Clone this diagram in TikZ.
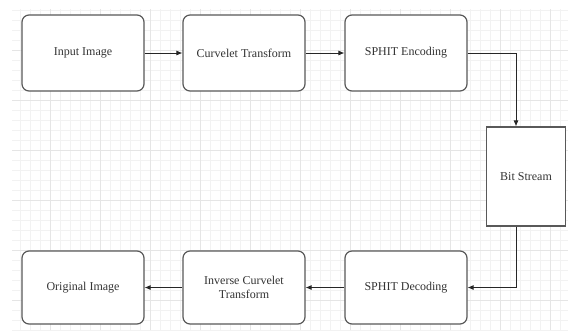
\documentclass[tikz,border=0pt]{standalone}
\usepackage{fontspec}
\setmainfont{Liberation Serif}
\usetikzlibrary{arrows.meta}

\tikzset{
    block/.style={draw=black!65, line width=1.2pt, rounded corners=7pt, fill=white,
        minimum width=122pt, minimum height=76pt, align=center, text=black!80,
        font=\fontsize{12}{13.5}\selectfont},
    flow/.style={-{Latex[length=6pt,width=5pt]}, black!85, line width=0.8pt}
}

\begin{document}
\begin{tikzpicture}[x=1pt, y=-1pt]
        \useasboundingbox (0,0) rectangle (568,330);
        \fill[white] (0,0) rectangle (568,330);

        % Background grid
        \draw[black!5, line width=0.3pt, step=10pt] (12,9) grid (568,330);
        \draw[black!10, line width=0.4pt, step=50pt] (12,9) grid (568,330);

        % Top row
        \node[block] (input) at (83,53) {Input Image};
        \node[block] (curvelet) at (244,53) {Curvelet Transform};
        \node[block] (encode) at (406,53) {SPHIT Encoding};

        % Bit stream
        \node[block, rounded corners=0pt, minimum width=79pt, minimum height=99pt] (bits) at (526,176.5) {Bit Stream};

        % Bottom row
        \node[block, minimum height=73pt] (decode) at (406,287.5) {SPHIT Decoding};
        \node[block, minimum height=73pt] (inverse) at (244,287.5) {Inverse Curvelet\\Transform};
        \node[block, minimum height=73pt] (original) at (83,287.5) {Original Image};

        % Arrows
        \draw[flow] (input) -- (curvelet);
        \draw[flow] (curvelet) -- (encode);
        \draw[flow] (encode.east) -| ([xshift=-10pt]bits.north);
        \draw[flow] ([xshift=-10pt]bits.south) |- (decode.east);
        \draw[flow] (decode) -- (inverse);
        \draw[flow] (inverse) -- (original);
    \end{tikzpicture}
\end{document}
